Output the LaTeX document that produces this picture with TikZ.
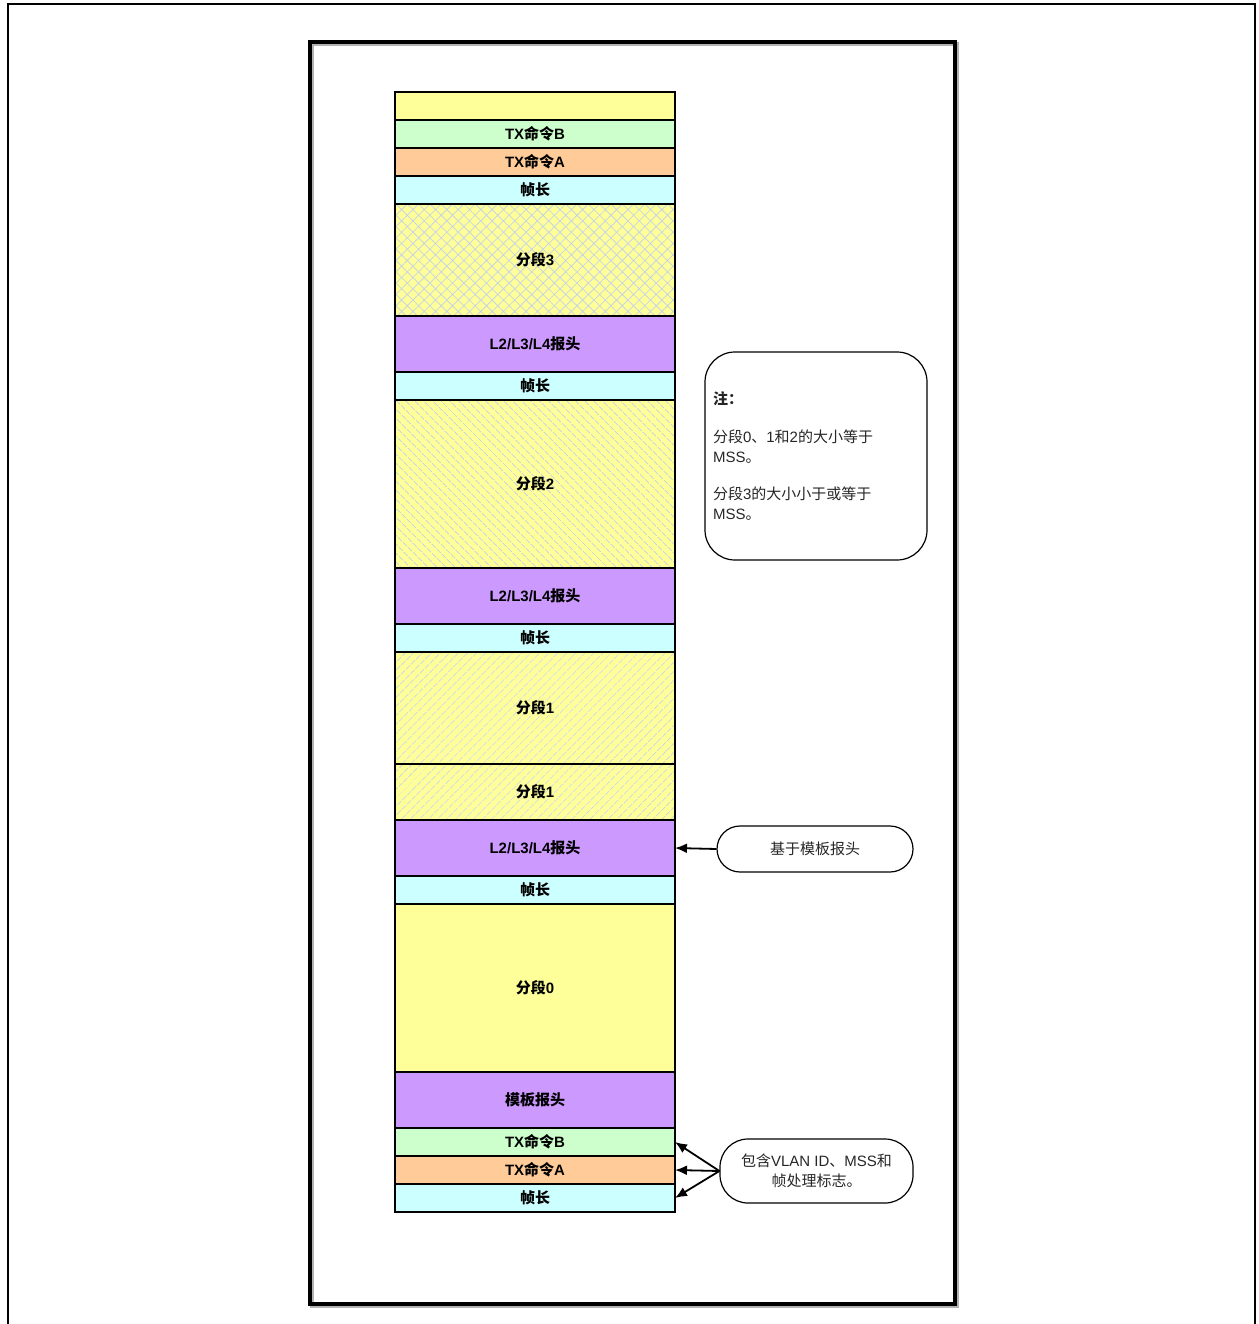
\documentclass[tikz,border=0pt]{standalone}
\usepackage{fontspec}
\setmainfont{Liberation Sans}
\newfontfamily\cjk{Noto Sans CJK SC}
\usetikzlibrary{arrows.meta, positioning, patterns.meta}
\definecolor{cellyellow}{RGB}{255, 255, 153}
\definecolor{cellgreen}{RGB}{204, 255, 204}
\definecolor{cellorange}{RGB}{255, 204, 153}
\definecolor{cellcyan}{RGB}{204, 255, 255}
\definecolor{cellpurple}{RGB}{204, 153, 255}
\definecolor{hatchblue}{RGB}{200, 212, 228}
\tikzset{
  cell/.style={draw, line width=1.8pt, minimum width=280pt, minimum height=28pt,
    outer sep=0pt, inner sep=0pt, font=\bfseries\fontsize{15}{18}\selectfont},
  tall/.style={cell, minimum height=#1},
  hatched/.style={preaction={fill=cellyellow},
    pattern={Lines[angle=#1, distance=6.5pt, line width=1pt]}, pattern color=hatchblue},
  crossed/.style={preaction={fill=cellyellow},
    pattern={Hatch[angle=45, distance=8pt, line width=0.8pt]}, pattern color=hatchblue},
  notebox/.style={draw, line width=1.2pt, font=\fontsize{15}{20}\selectfont, text=black!85},
  pointer/.style={-{Latex[length=12pt, width=10pt]}, line width=1.8pt}
}
\begin{document}
\begin{tikzpicture}[x=1pt, y=-1pt]
  \useasboundingbox (0,0) rectangle (1258,1324);
  % frames
  \draw[line width=1.5pt] (8,1324) -- (8,4) -- (1255,4) -- (1255,1324);
  \draw[gray!60, line width=3.5pt] (312,44) rectangle (957,1306);
  \draw[line width=3.5pt] (310,42) rectangle (955,1304);

  % frame stack, top to bottom
  \node[cell, fill=cellyellow] (blank) at (535,106) {};
  \node[cell, fill=cellgreen, below=0pt of blank] (cmdb3) {TX{\cjk 命令}B};
  \node[cell, fill=cellorange, below=0pt of cmdb3] (cmda3) {TX{\cjk 命令}A};
  \node[cell, fill=cellcyan, below=0pt of cmda3] (len4) {\cjk 帧长};
  \node[tall=112pt, crossed, below=0pt of len4] (seg3) {{\cjk 分段}3};
  \node[tall=56pt, fill=cellpurple, below=0pt of seg3] (hdrc) {L2/L3/L4{\cjk 报头}};
  \node[cell, fill=cellcyan, below=0pt of hdrc] (len3) {\cjk 帧长};
  \node[tall=168pt, hatched=-45, below=0pt of len3] (seg2) {{\cjk 分段}2};
  \node[tall=56pt, fill=cellpurple, below=0pt of seg2] (hdrb) {L2/L3/L4{\cjk 报头}};
  \node[cell, fill=cellcyan, below=0pt of hdrb] (len2) {\cjk 帧长};
  \node[tall=112pt, hatched=45, below=0pt of len2] (seg1a) {{\cjk 分段}1};
  \node[tall=56pt, hatched=45, below=0pt of seg1a] (seg1b) {{\cjk 分段}1};
  \node[tall=56pt, fill=cellpurple, below=0pt of seg1b] (hdra) {L2/L3/L4{\cjk 报头}};
  \node[cell, fill=cellcyan, below=0pt of hdra] (len1) {\cjk 帧长};
  \node[tall=168pt, fill=cellyellow, below=0pt of len1] (seg0) {{\cjk 分段}0};
  \node[tall=56pt, fill=cellpurple, below=0pt of seg0] (tmpl) {\cjk 模板报头};
  \node[cell, fill=cellgreen, below=0pt of tmpl] (cmdb) {TX{\cjk 命令}B};
  \node[cell, fill=cellorange, below=0pt of cmdb] (cmda) {TX{\cjk 命令}A};
  \node[cell, fill=cellcyan, below=0pt of cmda] (len0) {\cjk 帧长};

  % notes
  \node[notebox, rounded corners=30pt, minimum width=222pt, minimum height=208pt,
    text width=206pt, align=left, inner sep=8pt] (note) at (816,456)
    {{\bfseries\cjk 注：}\\[18pt]
     {\cjk 分段}0{\cjk 、}1{\cjk 和}2{\cjk 的大小等于}\\
     MSS{\cjk 。}\\[17pt]
     {\cjk 分段}3{\cjk 的大小小于或等于}\\
     MSS{\cjk 。}};
  \node[notebox, rounded corners=23pt, minimum width=196pt, minimum height=46pt]
    (tmplnote) at (815,849) {\cjk 基于模板报头};
  \node[notebox, rounded corners=28pt, minimum width=193pt, minimum height=64pt,
    align=center] (vlannote) at (816.5,1171)
    {{\cjk 包含}VLAN ID{\cjk 、}MSS{\cjk 和}\\{\cjk 帧处理标志。}};

  % pointers
  \draw[pointer] (tmplnote.west) -- (hdra.east);
  \draw[pointer] (vlannote.west) -- (cmdb.east);
  \draw[pointer] (vlannote.west) -- (cmda.east);
  \draw[pointer] (vlannote.west) -- (len0.east);
\end{tikzpicture}
\end{document}
